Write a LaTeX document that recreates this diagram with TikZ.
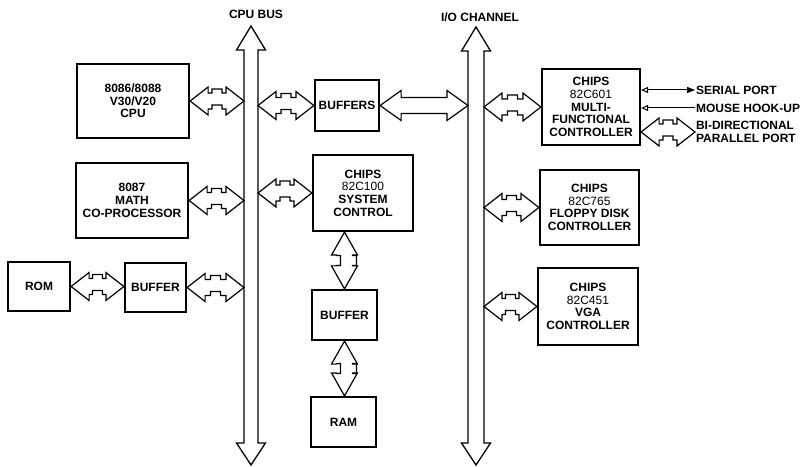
\documentclass[tikz,border=0pt]{standalone}
\usepackage{fontspec}
\setmainfont{Liberation Sans}
\usetikzlibrary{calc,arrows.meta}
\tikzset{
  box/.style={draw, line width=2.2pt, align=center, inner sep=0pt,
    font=\bfseries\fontsize{12}{12.7}\selectfont},
  lbl/.style={align=left, inner sep=0.8pt, font=\bfseries\fontsize{12}{12.5}\selectfont},
  busline/.style={line width=1.2pt, line join=miter},
  bigbus/.style={line width=1.3pt, line join=miter},
  thinarrow/.style={line width=1pt},
}
\newcommand\partno[1]{{\mdseries #1}}
% horizontal bus connector with a jog in the middle (first point is the left one)
\newcommand\hbus[2]{%
  \draw[busline] let \p1=(#1), \p2=(#2), \p3=($(\p1)!0.5!(\p2)$) in
    (\x1,\y1) -- ({\x1+18pt},{\y1+14pt}) -- ({\x1+18pt},{\y1+8pt})
    -- ({\x3-5pt},{\y1+8pt}) -- ({\x3-5pt},{\y1+12pt}) -- ({\x3+5pt},{\y1+12pt})
    -- ({\x3+5pt},{\y1+8pt}) -- ({\x2-18pt},{\y1+8pt}) -- ({\x2-18pt},{\y1+14pt})
    -- (\x2,\y1) -- ({\x2-18pt},{\y1-14pt}) -- ({\x2-18pt},{\y1-8pt})
    -- ({\x3+5pt},{\y1-8pt}) -- ({\x3+5pt},{\y1-4pt}) -- ({\x3-5pt},{\y1-4pt})
    -- ({\x3-5pt},{\y1-8pt}) -- ({\x1+18pt},{\y1-8pt}) -- ({\x1+18pt},{\y1-14pt})
    -- cycle;}
% horizontal plain double arrow
\newcommand\hbusplain[2]{%
  \draw[busline] let \p1=(#1), \p2=(#2) in
    (\x1,\y1) -- ({\x1+21pt},{\y1+15pt}) -- ({\x1+21pt},{\y1+8pt})
    -- ({\x2-21pt},{\y1+8pt}) -- ({\x2-21pt},{\y1+15pt})
    -- (\x2,\y1) -- ({\x2-21pt},{\y1-15pt}) -- ({\x2-21pt},{\y1-8pt})
    -- ({\x1+21pt},{\y1-8pt}) -- ({\x1+21pt},{\y1-15pt}) -- cycle;}
% vertical bus connector with a jog (first point is the upper one)
\newcommand\vbus[2]{%
  \draw[busline] let \p1=(#1), \p2=(#2), \p3=($(\p1)!0.5!(\p2)$) in
    (\x1,\y1) -- ({\x1+13pt},{\y1-23pt}) -- ({\x1+8pt},{\y1-23pt})
    -- ({\x1+8pt},{\y3+5pt}) -- ({\x1+12pt},{\y3+5pt}) -- ({\x1+12pt},{\y3-5pt})
    -- ({\x1+8pt},{\y3-5pt}) -- ({\x1+8pt},{\y2+23pt}) -- ({\x1+13pt},{\y2+23pt})
    -- (\x1,\y2) -- ({\x1-13pt},{\y2+23pt}) -- ({\x1-8pt},{\y2+23pt})
    -- ({\x1-8pt},{\y3-5pt}) -- ({\x1-4pt},{\y3-5pt}) -- ({\x1-4pt},{\y3+5pt})
    -- ({\x1-8pt},{\y3+5pt}) -- ({\x1-8pt},{\y1-23pt}) -- ({\x1-13pt},{\y1-23pt})
    -- cycle;}
% main vertical bus: #1 top tip, #2 bottom tip, #3 shaft half width
\newcommand\mainbus[3]{%
  \draw[bigbus] let \p1=(#1), \p2=(#2) in
    (\x1,\y1) -- ({\x1+14.5pt},{\y1-24pt}) -- ({\x1+#3},{\y1-24pt})
    -- ({\x1+#3},{\y2+22pt}) -- ({\x1+14.5pt},{\y2+22pt}) -- (\x2,\y2)
    -- ({\x1-14.5pt},{\y2+22pt}) -- ({\x1-#3},{\y2+22pt})
    -- ({\x1-#3},{\y1-24pt}) -- ({\x1-14.5pt},{\y1-24pt}) -- cycle;}

\begin{document}
\begin{tikzpicture}[x=1pt,y=1pt]
\useasboundingbox (0,0) rectangle (805,466);

% main buses
\coordinate (cpuT) at (251,440);
\coordinate (cpuB) at (251,1);
\coordinate (ioT) at (476,439);
\coordinate (ioB) at (476,1);
\coordinate (cpuL) at (244,0);
\coordinate (cpuR) at (258,0);
\coordinate (ioL) at (468,0);
\coordinate (ioR) at (484,0);
\mainbus{cpuT}{cpuB}{7pt}
\mainbus{ioT}{ioB}{8pt}
\node[lbl] (cpubus) at (256,452) {CPU BUS};
\node[lbl] (iochan) at (480,449) {I/O CHANNEL};

% boxes
\node[box, minimum width=112, minimum height=74] (cpu) at (133,365) {8086/8088\\V30/V20\\CPU};
\node[box, minimum width=112, minimum height=75] (math) at (132,265.5) {8087\\MATH\\CO-PROCESSOR};
\node[box, minimum width=62, minimum height=49] (rom) at (39,179.5) {ROM};
\node[box, minimum width=61, minimum height=49] (bufL) at (155.5,178.5) {BUFFER};
\node[box, minimum width=64, minimum height=51] (buffers) at (347,360.5) {BUFFERS};
\node[box, minimum width=100, minimum height=76] (sysc) at (363,273) {CHIPS\\\partno{82C100}\\SYSTEM\\CONTROL};
\node[box, minimum width=65, minimum height=50] (bufM) at (344.5,151) {BUFFER};
\node[box, minimum width=65, minimum height=50] (ram) at (343.5,44) {RAM};
\node[box, minimum width=98, minimum height=76] (mfc) at (591,359) {CHIPS\\\partno{82C601}\\MULTI-\\FUNCTIONAL\\CONTROLLER};
\node[box, minimum width=99, minimum height=75] (fdc) at (589.5,258.5) {CHIPS\\\partno{82C765}\\FLOPPY DISK\\CONTROLLER};
\node[box, minimum width=100, minimum height=77] (vga) at (588,159.5) {CHIPS\\\partno{82C451}\\VGA\\CONTROLLER};

% right-hand labels
\node[lbl, anchor=west] (serial) at (695,376) {SERIAL PORT};
\node[lbl, anchor=west] (mouse) at (695,358) {MOUSE HOOK-UP};
\node[lbl, anchor=west] (par) at (695,334) {BI-DIRECTIONAL\\PARALLEL PORT};

% bus connectors
\hbus{cpu.east}{cpu.east -| cpuL}
\hbus{math.east}{math.east -| cpuL}
\hbus{bufL.east}{bufL.east -| cpuL}
\hbus{rom.east}{rom.east -| bufL.west}
\hbus{cpuR |- buffers.west}{buffers.west}
\hbus{cpuR |- sysc.west}{sysc.west}
\hbusplain{buffers.east}{buffers.east -| ioL}
\hbus{ioR |- mfc.west}{mfc.west}
\hbus{ioR |- fdc.west}{fdc.west}
\hbus{ioR |- vga.west}{vga.west}
\hbus{mfc.east |- par.west}{par.west}
\vbus{bufM.north |- sysc.south}{bufM.north}
\vbus{bufM.south}{bufM.south |- ram.north}

% port lines
\draw[thinarrow, {Triangle[open,length=7pt,width=6pt]}-{Triangle[length=8pt,width=6pt]}]
  (mfc.east |- serial.west) -- (serial.west);
\draw[thinarrow, -{Triangle[open,length=7pt,width=6pt]}]
  (mouse.west) -- (mfc.east |- mouse.west);
\end{tikzpicture}
\end{document}
